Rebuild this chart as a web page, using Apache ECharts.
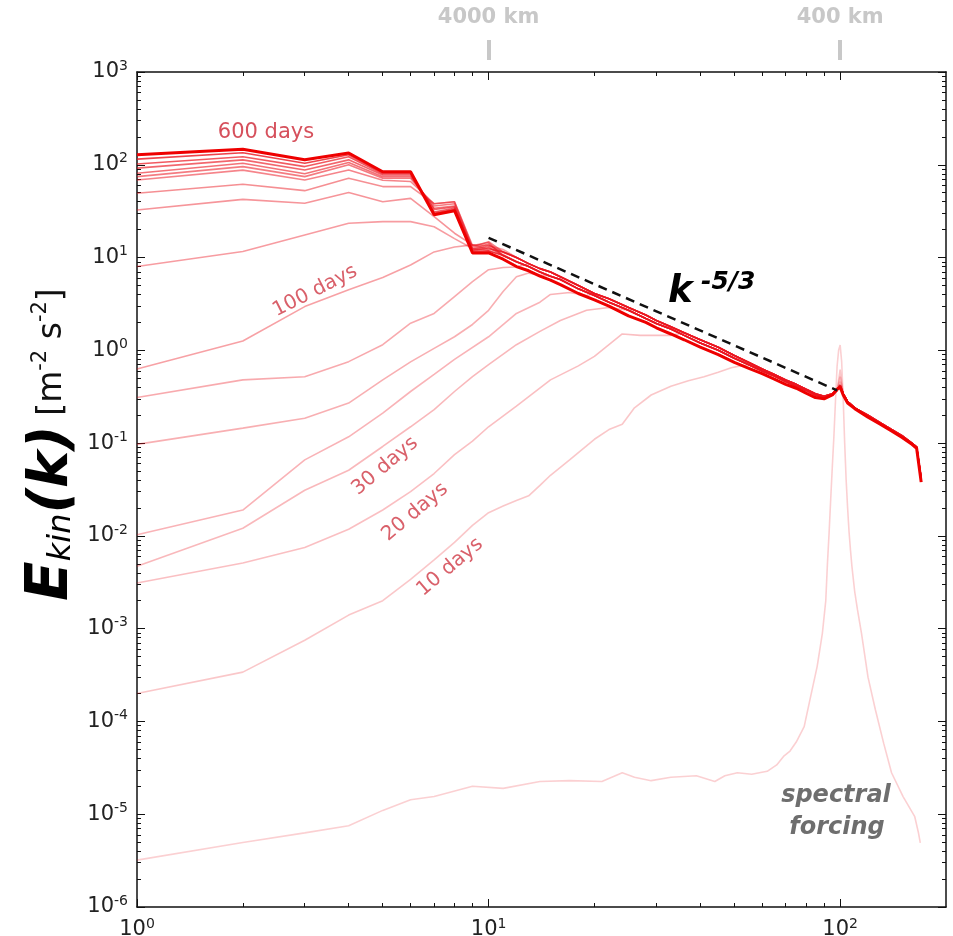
<!DOCTYPE html>
<html><head><meta charset="utf-8">
<script src="https://cdn.jsdelivr.net/npm/echarts@6/dist/echarts.min.js"></script>
<style>html,body{margin:0;padding:0;background:#fff}#c{width:953px;height:936px}</style>
</head><body><div id="c"></div>
<script>
// ---------- tick definitions ----------
const xMajor = [1, 10, 100];
const xMinorMult = [2, 3, 4, 5, 6, 7, 8, 9];
const yExps = [-6, -5, -4, -3, -2, -1, 0, 1, 2, 3];
const kmTicks = [10, 100];
const kmLabels = ['4000 km', '400 km'];

// ---------- data: wavenumber k, kinetic energy E(k) ----------
// shared head wavenumbers for the late (mature) spectra
const headK = [1, 2, 3, 4, 5, 6, 7, 8, 9, 10];
// shared inertial-range tails (k >= 11)
const tailK = [11,12,13,14,15,16,18,20,22,25,28,30,33,36,40,45,50,55,60,65,70,75,80,85,90,95,98,100,102,105,110,120,130,140,150,160,165,170];
const tail0 = [9.6,8.0,7.2,6.3,5.7,5.1,4.1,3.5,3.0,2.35,2.0,1.75,1.5,1.3,1.08,0.90,0.74,0.64,0.56,0.49,0.43,0.39,0.345,0.31,0.30,0.33,0.38,0.40,0.33,0.27,0.235,0.19,0.16,0.135,0.115,0.097,0.088,0.038];
const tail1 = [10.5,9.0,8.0,7.0,6.3,5.8,4.6,3.9,3.3,2.7,2.2,1.95,1.7,1.45,1.2,1.0,0.82,0.70,0.60,0.53,0.46,0.41,0.37,0.33,0.31,0.33,0.37,0.41,0.34,0.28,0.24,0.195,0.163,0.138,0.118,0.099,0.09,0.04];
const tail2 = [11.5,10.0,8.6,7.6,7.0,6.2,5.0,4.1,3.6,2.9,2.4,2.1,1.8,1.55,1.3,1.08,0.88,0.74,0.63,0.55,0.48,0.43,0.38,0.34,0.32,0.34,0.38,0.42,0.34,0.28,0.24,0.2,0.166,0.14,0.12,0.1,0.091,0.042];

// mature spectra heads (600 days = T1 ... T9)
const T1 = [128,147,113,134,84,84,29,32,11.2,11.2];
const T2 = [115,135,104,128,82,82,30,33,11.5,11.8];
const T3 = [102,122,95.6,122,80,80,31,34,11.8,12.5];
const T4 = [92,113,88,113,77.5,77.5,33,35,12,13];
const T5 = [81,104,80,106,74.5,74.5,34,36,12.2,13.5];
const T6 = [74.5,95.6,74.5,100,71.6,71.6,36,38,12.5,14];
const T7 = [68.6,87.5,68.6,88,68,66,38,40,13,14.8];
const T8 = [49.3,61.7,52.6,71.6,58.2,58.2,38,40,13.5,14.5];
const T9 = [32.6,42.4,38.5,50.2,40,43.4,27.6,18.3,13.7,12.2];

// growing spectra (earlier days)
const kB = [1,2,3,4,5,6,7,8,9,10,11];
const vB = [8.0,11.6,17.5,23.4,24.4,24.4,21.5,16,12.5,11.8,10.8];
const kA = [1,2,3,4,5,6,7,8,9,10,11];                     // 100 days
const vA = [0.63,1.26,2.96,4.5,6.1,8.3,11.5,13,13.7,13.5,12.2];
const kC = [1,2,3,4,5,6,7,8,9,10,11,12];
const vC = [0.31,0.48,0.52,0.755,1.15,1.96,2.5,3.8,5.5,7.4,7.8,7.9];
const kD = [1,2,3,4,5,6,7,8,9,10,11,12,13,14];
const vD = [0.097,0.145,0.185,0.27,0.48,0.75,1.05,1.4,1.9,2.7,4.3,6.2,6.8,6.5];
const kE = [1,2,3,4,5,6,7,8,10,12,14,15,17,19];
const vE = [0.0103,0.019,0.066,0.117,0.21,0.36,0.55,0.8,1.4,2.5,3.3,4.0,4.2,3.9];
const kF = [1,2,3,4,5,6,7,8,9,10,12,14,16,19,22];        // 30 days
const vF = [0.0047,0.0121,0.031,0.051,0.092,0.15,0.23,0.36,0.52,0.7,1.15,1.6,2.1,2.7,2.9];
const kG = [1,2,3,4,5,6,7,8,9,10,12,15,18,20,22,24,27,30,33]; // 20 days
const vG = [0.0031,0.0051,0.0075,0.0118,0.019,0.03,0.047,0.075,0.105,0.15,0.25,0.48,0.68,0.86,1.15,1.5,1.45,1.45,1.45];
const kH = [1,2,3,4,5,6,7,8,9,10,11,12,13,14,15,17,20,22,24,26,29,33,37,41,45,49,52]; // 10 days
const vH = [2.0e-4,3.4e-4,7.5e-4,1.4e-3,2.0e-3,3.4e-3,5.5e-3,8.5e-3,0.013,0.0178,0.021,0.024,0.027,0.035,0.045,0.066,0.11,0.14,0.16,0.24,0.33,0.41,0.47,0.52,0.58,0.65,0.68];
// forcing peak heights at k = 100 for the young spectra
const peakF = 0.46, peakG = 0.52, peakH = 0.62;

// initial state: spectral forcing
const k0 = [1,2,3,4,5,6,7,9,11,14,17,21,24,26,29,33,39,44,47,51,56,62,66,69,72,75,79,82,86,89,91,92,93,94,95,96,97,98,99,100,101,102,103,104,105,106,107,108,110,112,115,120,126,133,140,151,163,167,169];
const v0 = [3.2e-6,4.95e-6,6.3e-6,7.5e-6,1.1e-5,1.43e-5,1.55e-5,2.0e-5,1.9e-5,2.25e-5,2.3e-5,2.25e-5,2.8e-5,2.5e-5,2.3e-5,2.5e-5,2.6e-5,2.25e-5,2.6e-5,2.8e-5,2.7e-5,2.9e-5,3.4e-5,4.2e-5,4.8e-5,6.0e-5,8.8e-5,1.7e-4,3.9e-4,8.9e-4,2.0e-3,5.0e-3,0.0107,0.025,0.056,0.12,0.29,0.67,1.0,1.14,0.75,0.3,0.1,0.04,0.02,0.011,7e-3,4.7e-3,2.5e-3,1.6e-3,8.9e-4,3.0e-4,1.33e-4,5.8e-5,2.8e-5,1.55e-5,9.4e-6,6.3e-6,4.9e-6];

// k^-5/3 reference line end points
const refK = [10, 98];
const refV = [16.3, 0.37];

// ---------- build ----------
function build(kh, vh, tk, tv, peak) {
  const d = kh.map((k, i) => [k, vh[i]]);
  const last = kh[kh.length - 1];
  tk.forEach((k, i) => { if (k > last) d.push([k, (peak && k === 100) ? peak : tv[i]]); });
  return d;
}
function pairs(ks, vs) { return ks.map((k, i) => [k, vs[i]]); }

const curves = [
  { d: pairs(k0, v0), a: 0.2 },
  { d: build(kH, vH, tailK, tail1, peakH), a: 0.24 },
  { d: build(kG, vG, tailK, tail2, peakG), a: 0.27 },
  { d: build(kF, vF, tailK, tail1, peakF), a: 0.3 },
  { d: build(kE, vE, tailK, tail2), a: 0.32 },
  { d: build(kD, vD, tailK, tail1), a: 0.34 },
  { d: build(kC, vC, tailK, tail2), a: 0.36 },
  { d: build(kA, vA, tailK, tail2), a: 0.4 },
  { d: build(kB, vB, tailK, tail1), a: 0.42 },
  { d: build(headK, T9, tailK, tail2), a: 0.45 },
  { d: build(headK, T8, tailK, tail1), a: 0.48 },
  { d: build(headK, T7, tailK, tail2), a: 0.52 },
  { d: build(headK, T6, tailK, tail1), a: 0.56 },
  { d: build(headK, T5, tailK, tail2), a: 0.6 },
  { d: build(headK, T4, tailK, tail1), a: 0.65 },
  { d: build(headK, T3, tailK, tail2), a: 0.7 },
  { d: build(headK, T2, tailK, tail1), a: 0.8 }
];

const series = curves.map(c => ({
  type: 'line', data: c.d, showSymbol: false, symbol: 'none', silent: true,
  lineStyle: { color: 'rgba(235,20,30,' + c.a + ')', width: 1.6 }, z: 2
}));
series.push({ type: 'line', data: build(headK, T1, tailK, tail0), showSymbol: false, symbol: 'none', silent: true,
  lineStyle: { color: '#ee0000', width: 3 }, z: 3 });
series.push({ type: 'line', data: pairs(refK, refV), showSymbol: false, symbol: 'none', silent: true,
  lineStyle: { color: '#111', width: 2.5, type: [9, 6] }, z: 4 });

// ---------- ticks ----------
const xMinor = [];
[1, 10, 100].forEach(d => xMinorMult.forEach(m => { if (m * d < 200) xMinor.push(m * d); }));
const yMajor = yExps.map(e => Math.pow(10, e));
const yMinor = [];
yExps.slice(0, -1).forEach(e => xMinorMult.forEach(m => yMinor.push(m * Math.pow(10, e))));

const FONT = 'DejaVu Sans';
const supRich = {
  b: { fontSize: 21, color: '#222', fontFamily: FONT },
  s: { fontSize: 14, color: '#222', fontFamily: FONT, padding: [0, 0, 12, 0] }
};
const powFmt = v => '{b|10}{s|' + Math.round(Math.log10(v)) + '}';
const lineBlack = { color: '#111', width: 1.5 };
const tickBlack = { color: '#111', width: 1 };
const GR = { left: 137, top: 72, width: 809, height: 835, outerBoundsMode: 'none', containLabel: false };

function xa(grid, pos, opts) {
  return Object.assign({ gridIndex: grid, type: 'log', logBase: 10, min: 1, max: 200, position: pos,
    splitLine: { show: false }, minorTick: { show: false }, minorSplitLine: { show: false },
    axisLine: { show: false, onZero: false }, axisLabel: { show: false }, axisTick: { show: false } }, opts);
}
function ya(grid, pos, opts) {
  return Object.assign({ gridIndex: grid, type: 'log', logBase: 10, min: 1e-6, max: 1e3, position: pos,
    splitLine: { show: false }, minorTick: { show: false }, minorSplitLine: { show: false },
    axisLine: { show: false, onZero: false }, axisLabel: { show: false }, axisTick: { show: false } }, opts);
}

const option = {
  backgroundColor: '#fff',
  animation: false,
  grid: [GR, GR, GR, GR, GR],
  xAxis: [
    xa(0, 'bottom', {
      axisLine: { show: true, onZero: false, lineStyle: lineBlack },
      axisTick: { show: true, inside: true, length: 8, customValues: xMajor, lineStyle: tickBlack },
      axisLabel: { show: true, customValues: xMajor, formatter: powFmt, rich: supRich, margin: 10 }
    }),
    xa(1, 'top', {
      axisLine: { show: true, onZero: false, lineStyle: lineBlack },
      axisTick: { show: true, inside: true, length: 8, customValues: xMajor, lineStyle: tickBlack }
    }),
    xa(2, 'bottom', { axisTick: { show: true, inside: true, length: 4, customValues: xMinor, lineStyle: tickBlack } }),
    xa(3, 'top', { axisTick: { show: true, inside: true, length: 4, customValues: xMinor, lineStyle: tickBlack } }),
    xa(4, 'top', {
      offset: 12,
      axisTick: { show: true, inside: false, length: 20, customValues: kmTicks, lineStyle: { color: '#c8c8c8', width: 4 } },
      axisLabel: { show: true, customValues: kmTicks, margin: 32, color: '#c8c8c8', fontWeight: 'bold', fontSize: 21, fontFamily: FONT,
        formatter: v => kmLabels[kmTicks.findIndex(t => Math.abs(t - v) < 1e-6)] || '' }
    })
  ],
  yAxis: [
    ya(0, 'left', {
      axisLine: { show: true, onZero: false, lineStyle: lineBlack },
      axisTick: { show: true, inside: true, length: 8, customValues: yMajor, lineStyle: tickBlack },
      axisLabel: { show: true, customValues: yMajor, formatter: powFmt, rich: supRich, margin: 9 }
    }),
    ya(1, 'right', {
      axisLine: { show: true, onZero: false, lineStyle: lineBlack },
      axisTick: { show: true, inside: true, length: 8, customValues: yMajor, lineStyle: tickBlack }
    }),
    ya(2, 'left', { axisTick: { show: true, inside: true, length: 4, customValues: yMinor, lineStyle: tickBlack } }),
    ya(3, 'right', { axisTick: { show: true, inside: true, length: 4, customValues: yMinor, lineStyle: tickBlack } }),
    ya(4, 'left', {})
  ],
  series: series,
  graphic: [
    { type: 'text', x: 52, y: 513, rotation: Math.PI / 2, z: 10, style: {
      text: '{E|E}{sub|kin}{K|(k)}', align: 'center', verticalAlign: 'middle',
      rich: {
        E: { fontSize: 58, fontWeight: 'bold', fontStyle: 'italic', fontFamily: FONT, fill: '#000' },
        sub: { fontSize: 32, fontStyle: 'italic', fontFamily: FONT, fill: '#000', padding: [20, 0, 0, 0] },
        K: { fontSize: 56, fontWeight: 'bold', fontStyle: 'italic', fontFamily: FONT, fill: '#000' }
      } } },
    { type: 'text', x: 52, y: 352, rotation: Math.PI / 2, z: 10, style: {
      text: '{u|[m}{s|-2}{u| s}{s|-2}{u|]}', align: 'center', verticalAlign: 'middle',
      rich: {
        u: { fontSize: 33, fontFamily: FONT, fill: '#111' },
        s: { fontSize: 21, fontFamily: FONT, fill: '#111', padding: [0, 0, 22, 0] }
      } } },
    { type: 'text', x: 266, y: 133, z: 10, style: { text: '600 days', fontSize: 21, fontFamily: FONT, fill: '#d6505c', align: 'center', verticalAlign: 'middle' } },
    { type: 'text', x: 315, y: 291, rotation: 27 * Math.PI / 180, z: 10, style: { text: '100 days', fontSize: 20, fontFamily: FONT, fill: '#d9606a', align: 'center', verticalAlign: 'middle' } },
    { type: 'text', x: 385, y: 466, rotation: 40 * Math.PI / 180, z: 10, style: { text: '30 days', fontSize: 20, fontFamily: FONT, fill: '#d9606a', align: 'center', verticalAlign: 'middle' } },
    { type: 'text', x: 415, y: 512, rotation: 40 * Math.PI / 180, z: 10, style: { text: '20 days', fontSize: 20, fontFamily: FONT, fill: '#d9606a', align: 'center', verticalAlign: 'middle' } },
    { type: 'text', x: 450, y: 567, rotation: 40 * Math.PI / 180, z: 10, style: { text: '10 days', fontSize: 20, fontFamily: FONT, fill: '#d9606a', align: 'center', verticalAlign: 'middle' } },
    { type: 'text', x: 668, y: 292, z: 10, style: { text: 'k', fontSize: 37, fontWeight: 'bold', fontStyle: 'italic', fontFamily: FONT, fill: '#000', align: 'left', verticalAlign: 'middle' } },
    { type: 'text', x: 701, y: 282, z: 10, style: { text: '-5/3', fontSize: 25, fontWeight: 'bold', fontStyle: 'italic', fontFamily: FONT, fill: '#000', align: 'left', verticalAlign: 'middle' } },
    { type: 'text', x: 836, y: 796, z: 10, style: { text: 'spectral', fontSize: 24, fontWeight: 'bold', fontStyle: 'italic', fontFamily: FONT, fill: '#6e6e6e', align: 'center', verticalAlign: 'middle' } },
    { type: 'text', x: 837, y: 828, z: 10, style: { text: 'forcing', fontSize: 24, fontWeight: 'bold', fontStyle: 'italic', fontFamily: FONT, fill: '#6e6e6e', align: 'center', verticalAlign: 'middle' } }
  ]
};

// attach all data series to grid 0 axes
option.series.forEach(s => { s.xAxisIndex = 0; s.yAxisIndex = 0; s.animation = false; });

const chart = echarts.init(document.getElementById('c'), null, { renderer: 'canvas', width: 953, height: 936 });
chart.setOption(option);
</script>
</body></html>
